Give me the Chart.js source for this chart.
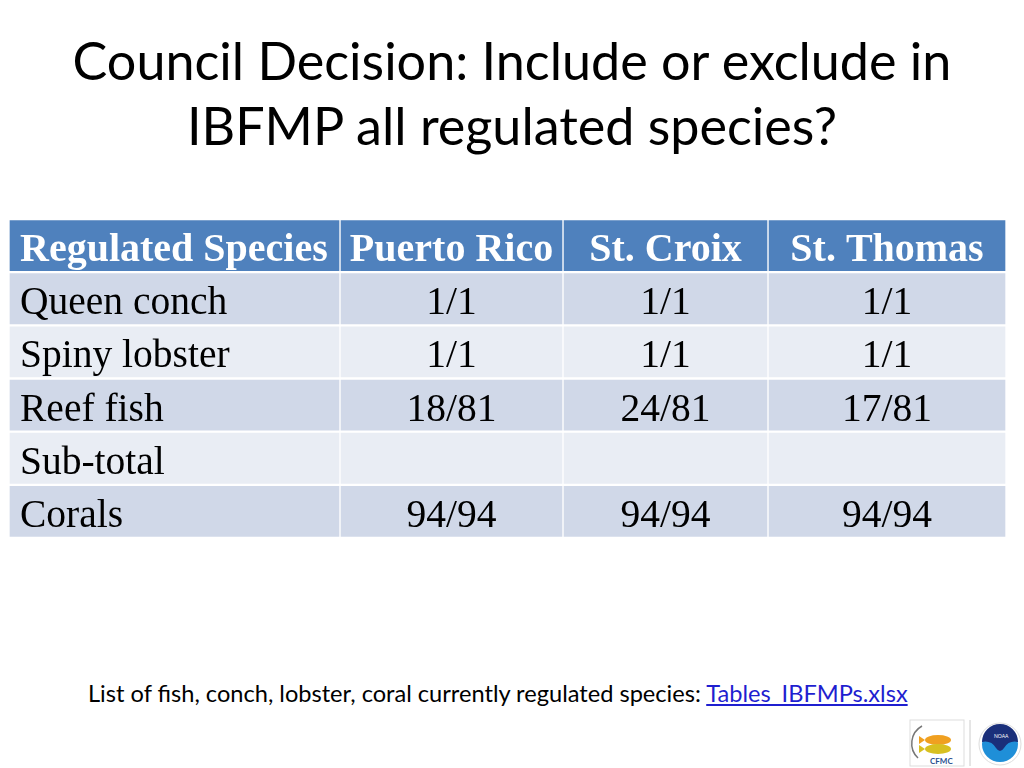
<!DOCTYPE html>
<html>
<head>
<meta charset="utf-8">
<script src="https://cdn.jsdelivr.net/npm/chart.js@4/dist/chart.umd.min.js"></script>
<style>
    body { margin: 0; width: 1024px; height: 768px; background: #ffffff; position: relative; overflow: hidden; }
    .title { position: absolute; left: 0; width: 1024px; text-align: center; font-family: Lato, "Open Sans", sans-serif; color: #000000; line-height: 1; white-space: nowrap; }
    #tableBox { position: absolute; left: 9px; top: 219px; width: 997px; height: 319px; }
    #footer { position: absolute; left: 88px; font-family: Lato, "Open Sans", sans-serif; color: #000000; line-height: 1; white-space: nowrap; }
    #footer a { color: #1f1fd0; text-decoration: underline; }
    #logos { position: absolute; left: 908px; top: 718px; }
</style>
</head>
<body>
<div class="title" id="title1">Council Decision: Include or exclude in</div>
<div class="title" id="title2">IBFMP all regulated species?</div>

<div id="tableBox"><canvas id="speciesTable"></canvas></div>

<div id="footer">List of fish, conch, lobster, coral currently regulated species: <a href="#">Tables_IBFMPs.xlsx</a></div>

<svg id="logos" width="116" height="50">
    <rect x="2" y="2" width="54" height="46" fill="#ffffff" stroke="#dddddd" />
    <path d="M10 40 A 20 20 0 0 1 14 8" fill="none" stroke="#777" stroke-width="1.5" />
    <ellipse cx="30" cy="22" rx="13" ry="5" fill="#f0a020" />
    <ellipse cx="30" cy="31" rx="13" ry="5" fill="#d8c020" />
    <path d="M17 22 L11 18 L11 26 Z" fill="#f0a020" />
    <path d="M17 31 L11 27 L11 35 Z" fill="#d8c020" />
    <text x="22" y="46" font-family="Lato, sans-serif" font-size="8" font-weight="bold" fill="#2a4f8f">CFMC</text>
    <line x1="62" y1="2" x2="62" y2="48" stroke="#cccccc" />
    <circle cx="92" cy="26" r="21" fill="#ffffff" stroke="#dddddd" />
    <circle cx="92" cy="26" r="18" fill="#1f8fd8" />
    <path d="M74 24 A 18 18 0 0 1 110 24 Q 101 22 96 30 Q 92 36 88 30 Q 83 22 74 24 Z" fill="#1a2f7a" />
    <text x="86" y="20" font-family="Lato, sans-serif" font-size="5" fill="#ffffff">NOAA</text>
</svg>

<script>
// contenido de la tabla
const columns = ["Regulated Species", "Puerto Rico", "St. Croix", "St. Thomas"];
const species = ["Queen conch", "Spiny lobster", "Reef fish", "Sub-total", "Corals"];
const puertoRico = ["1/1", "1/1", "18/81", "", "94/94"];
const stCroix = ["1/1", "1/1", "24/81", "", "94/94"];
const stThomas = ["1/1", "1/1", "17/81", "", "94/94"];

// bordes de columna en px dentro de la tabla
const colEdges = [0, 331, 554, 759, 997];

const rowLabels = ["header"].concat(species);
const cellText = [
    [columns[0]].concat(species),
    [columns[1]].concat(puertoRico),
    [columns[2]].concat(stCroix),
    [columns[3]].concat(stThomas),
];

function cellColor(ctx) {
    if (ctx.dataIndex === 0) return "#4f81bd"; // cabecera
    return ctx.dataIndex % 2 === 1 ? "#d0d8e8" : "#e9edf4";
}

const cellTextPlugin = {
    id: "cellText",
    afterDatasetsDraw(chart) {
        const ctx = chart.ctx;
        ctx.save();
        chart.data.datasets.forEach((ds, di) => {
            chart.getDatasetMeta(di).data.forEach((bar, ri) => {
                const txt = cellText[di][ri];
                if (!txt) return;
                const p = bar.getProps(["x", "y", "base"], true);
                const left = Math.min(p.x, p.base);
                const right = Math.max(p.x, p.base);
                ctx.font = ri === 0
                    ? "bold 40px 'Liberation Serif', 'Times New Roman', serif"
                    : "39.5px 'Liberation Serif', 'Times New Roman', serif";
                ctx.fillStyle = ri === 0 ? "#ffffff" : "#000000";
                ctx.textBaseline = "alphabetic";
                const baseY = p.y + 15.5;
                if (di === 0) {
                    ctx.textAlign = "left";
                    ctx.fillText(txt, left + 11, baseY);
                } else {
                    ctx.textAlign = "center";
                    ctx.fillText(txt, (left + right) / 2, baseY);
                }
            });
        });
        ctx.restore();
    },
};

const datasets = columns.map((name, c) => ({
    label: name,
    data: rowLabels.map(() => [colEdges[c], colEdges[c + 1]]),
    backgroundColor: cellColor,
    borderColor: "#ffffff",
    borderWidth: { left: 1, right: 1, top: 1.5, bottom: 1.5 },
    borderSkipped: false,
    barPercentage: 1,
    categoryPercentage: 1,
    grouped: false,
}));

function fitTitles() {
    const m = document.createElement("canvas").getContext("2d");
    const t1 = document.getElementById("title1");
    const t2 = document.getElementById("title2");
    m.font = "100px Lato";
    let size = 100 * 880 / m.measureText(t1.textContent).width;
    [t1, t2].forEach((el, i) => {
        el.style.fontSize = size + "px";
        el.style.top = ([80, 145][i] - 0.887 * size) + "px";
    });
    const f = document.getElementById("footer");
    let fs = 100 * 822 / m.measureText(f.textContent).width;
    f.style.fontSize = fs + "px";
    f.style.top = (703 - 0.887 * fs) + "px";
}

document.fonts.load("50px Lato").then(fitTitles, fitTitles);
fitTitles();

document.fonts.load("40px 'Liberation Serif'").finally(function () {
    new Chart(document.getElementById("speciesTable"), {
        type: "bar",
        data: { labels: rowLabels, datasets: datasets },
        options: {
            indexAxis: "y",
            responsive: true,
            maintainAspectRatio: false,
            animation: false,
            layout: { padding: 0 },
            plugins: {
                legend: { display: false },
                tooltip: { enabled: false },
            },
            scales: {
                x: { type: "linear", min: 0, max: colEdges[colEdges.length - 1], display: false },
                y: { type: "category", display: false },
            },
        },
        plugins: [cellTextPlugin],
    });
});
</script>
</body>
</html>
